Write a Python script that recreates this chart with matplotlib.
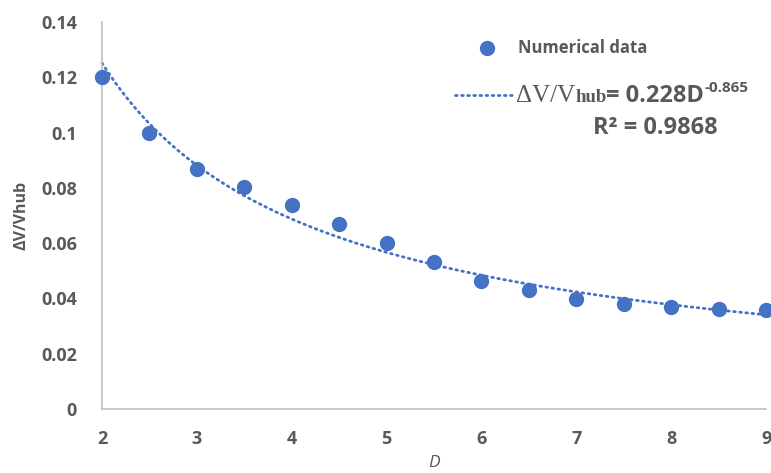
import numpy as np
import matplotlib.pyplot as plt
from matplotlib.lines import Line2D

plt.rcParams['font.family'] = ['Open Sans', 'DejaVu Sans']

# data
D = [2, 2.5, 3, 3.5, 4, 4.5, 5, 5.5, 6, 6.5, 7, 7.5, 8, 8.5, 9]
dv = [0.120, 0.100, 0.0868, 0.0803, 0.0738, 0.0669, 0.0600, 0.0532,
      0.0463, 0.0430, 0.0398, 0.0380, 0.0369, 0.0362, 0.0358]
# power trendline coefficients
coef_a = 0.228
coef_b = -0.865
r2 = 0.9868

blue = '#4472C4'
grey = '#595959'
W, H = 771, 473


def fx(px):
    return px / W


def fy(py):
    return 1 - py / H


fig = plt.figure(figsize=(7.71, 4.73), dpi=100)
ax = fig.add_axes([fx(102), fy(409), fx(766) - fx(102), fy(22) - fy(409)])

xf = np.linspace(2, 9, 200)
ax.plot(xf, coef_a * xf ** coef_b, ls=(0, (0.6, 1.6)), lw=2.0, color=blue,
        dash_capstyle='round', clip_on=False, zorder=2)
ax.plot(D, dv, 'o', ms=10, color=blue, clip_on=False, zorder=3)

ax.set_xlim(2, 9)
ax.set_ylim(0, 0.14)
ax.set_xticks(range(2, 10))
ax.set_yticks(np.arange(0, 0.141, 0.02))
ax.set_yticklabels(['0', '0.02', '0.04', '0.06', '0.08', '0.1', '0.12', '0.14'])
ax.tick_params(length=0, labelsize=13, labelcolor=grey)
ax.tick_params(axis='x', pad=15)
ax.tick_params(axis='y', pad=18)
for lab in ax.get_xticklabels() + ax.get_yticklabels():
    lab.set_fontweight('bold')

for s in ['top', 'right']:
    ax.spines[s].set_visible(False)
for s in ['left', 'bottom']:
    ax.spines[s].set_color('#BFBFBF')
    ax.spines[s].set_linewidth(1.2)

ax.set_xlabel('D', fontsize=12.5, style='italic', color=grey, labelpad=5)
ax.set_ylabel('ΔV/Vhub', fontsize=11.5, fontweight='bold', color=grey,
              labelpad=8)

# legend, drawn by hand
fig.add_artist(Line2D([fx(487)], [fy(48)], ls='none', marker='o', ms=10,
                      color=blue))
fig.text(fx(518), fy(48), 'Numerical data', fontsize=12, fontweight='bold',
         color=grey, va='center', ha='left')

base = fy(102)
fig.add_artist(Line2D([fx(455), fx(512)], [fy(95), fy(95)],
                      ls=(0, (0.6, 1.6)), lw=2.0, color=blue,
                      dash_capstyle='round'))
t1 = fig.text(fx(516), base, 'ΔV/V', fontsize=18, family='Liberation Serif',
              color=grey, va='baseline', ha='left')
t2 = fig.text(0, base, 'hub', fontsize=13.5, family='Liberation Serif',
              fontweight='bold', color=grey, va='baseline', ha='left')
t3 = fig.text(0, base, '= %.3fD' % coef_a, fontsize=17, fontweight='bold',
              color=grey, va='baseline', ha='left')
t4 = fig.text(0, fy(92), '%.3f' % coef_b, fontsize=11, fontweight='bold',
              color=grey, va='baseline', ha='left')

fig.canvas.draw()
r = fig.canvas.get_renderer()
x = t1.get_window_extent(r).x1 / fig.bbox.width
for t in [t2, t3, t4]:
    t.set_x(x)
    x = t.get_window_extent(r).x1 / fig.bbox.width

fig.text(fx(655), fy(128), 'R² = %.4f' % r2, fontsize=17,
         fontweight='bold', color=grey, va='center', ha='center')

fig.savefig('out.png', dpi=100)
